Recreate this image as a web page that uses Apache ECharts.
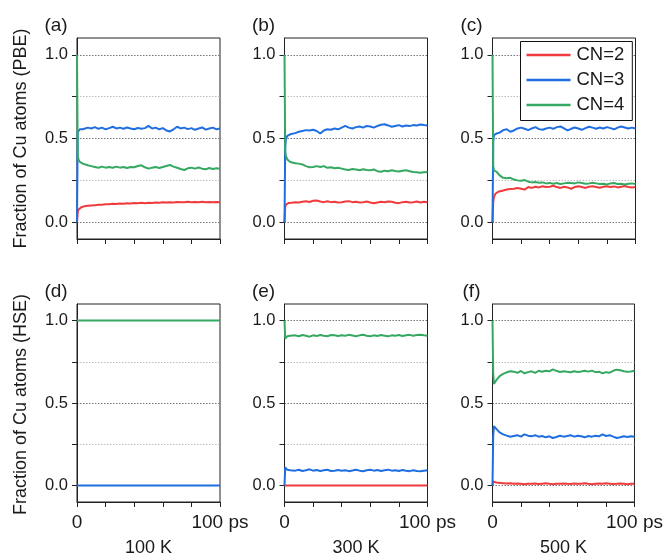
<!DOCTYPE html>
<html>
<head>
<meta charset="utf-8">
<script src="https://cdn.jsdelivr.net/npm/echarts@6/dist/echarts.min.js"></script>
<style>
html,body{margin:0;padding:0;background:#fff;}
#chart{width:666px;height:558px;}
</style>
</head>
<body>
<div id="chart"></div>
<script>
// ---------- data ----------
const seriesNames = ['CN=2', 'CN=3', 'CN=4'];
const panelLabels = ['(a)', '(b)', '(c)', '(d)', '(e)', '(f)'];
const temperatures = ['100 K', '300 K', '500 K'];
const rowTitles = ['Fraction of Cu atoms (PBE)', 'Fraction of Cu atoms (HSE)'];
const yTickValues = [0, 0.25, 0.5, 0.75, 1.0];
const yLabelValues = [0, 0.5, 1.0];
const yTickLabels = ['0.0', '0.5', '1.0'];
const xLabelValues = [0, 100];
const xTickLabels = ['0', '100 ps'];

// time (ps)
const T = [0, 0.5, 1, 2, 3, 4, 5, 7.5, 10, 12.5, 15, 17.5, 20, 22.5, 25, 27.5, 30, 32.5, 35, 37.5, 40, 42.5, 45, 47.5, 50, 52.5, 55, 57.5, 60, 62.5, 65, 67.5, 70, 72.5, 75, 77.5, 80, 82.5, 85, 87.5, 90, 92.5, 95, 97.5, 100];
const T_flat = [0, 100];

// (a) PBE 100 K
const red_a = [0, 0.06, 0.075, 0.085, 0.09, 0.092, 0.095, 0.098, 0.10, 0.102, 0.104, 0.105, 0.107, 0.108, 0.11, 0.109, 0.112, 0.111, 0.113, 0.112, 0.115, 0.113, 0.116, 0.114, 0.117, 0.115, 0.118, 0.117, 0.119, 0.118, 0.12, 0.118, 0.121, 0.119, 0.12, 0.122, 0.12, 0.121, 0.119, 0.122, 0.12, 0.121, 0.119, 0.121, 0.12];
const blue_a = [0, 0.54, 0.55, 0.555, 0.56, 0.555, 0.56, 0.565, 0.56, 0.568, 0.558, 0.565, 0.555, 0.562, 0.57, 0.56, 0.565, 0.558, 0.566, 0.56, 0.555, 0.563, 0.558, 0.562, 0.575, 0.56, 0.565, 0.555, 0.562, 0.548, 0.542, 0.555, 0.57, 0.56, 0.565, 0.556, 0.562, 0.552, 0.56, 0.566, 0.553, 0.56, 0.565, 0.555, 0.56];
const green_a = [1.0, 0.40, 0.375, 0.36, 0.355, 0.35, 0.345, 0.34, 0.335, 0.33, 0.325, 0.332, 0.326, 0.33, 0.325, 0.332, 0.326, 0.33, 0.324, 0.33, 0.328, 0.336, 0.34, 0.328, 0.32, 0.326, 0.33, 0.324, 0.33, 0.336, 0.342, 0.332, 0.325, 0.318, 0.312, 0.322, 0.326, 0.32, 0.327, 0.32, 0.316, 0.324, 0.318, 0.322, 0.32];

// (b) PBE 300 K
const red_b = [0, 0.09, 0.105, 0.11, 0.115, 0.112, 0.117, 0.12, 0.118, 0.122, 0.125, 0.121, 0.128, 0.13, 0.124, 0.12, 0.125, 0.12, 0.122, 0.118, 0.12, 0.124, 0.126, 0.12, 0.122, 0.118, 0.12, 0.124, 0.118, 0.114, 0.118, 0.122, 0.12, 0.124, 0.122, 0.116, 0.114, 0.12, 0.122, 0.118, 0.12, 0.124, 0.118, 0.122, 0.12];
const blue_b = [0, 0.45, 0.5, 0.515, 0.52, 0.525, 0.528, 0.532, 0.54, 0.545, 0.55, 0.548, 0.552, 0.545, 0.53, 0.548, 0.555, 0.552, 0.56, 0.555, 0.565, 0.575, 0.565, 0.56, 0.568, 0.572, 0.565, 0.575, 0.572, 0.565, 0.575, 0.582, 0.585, 0.578, 0.57, 0.575, 0.58, 0.572, 0.578, 0.574, 0.58, 0.578, 0.584, 0.58, 0.578];
const green_b = [1.0, 0.42, 0.395, 0.375, 0.365, 0.36, 0.355, 0.352, 0.35, 0.345, 0.335, 0.328, 0.33, 0.335, 0.33, 0.335, 0.325, 0.328, 0.322, 0.325, 0.32, 0.315, 0.312, 0.318, 0.315, 0.31, 0.316, 0.312, 0.31, 0.315, 0.305, 0.302, 0.308, 0.305, 0.31, 0.306, 0.303, 0.308, 0.31, 0.305, 0.30, 0.298, 0.295, 0.298, 0.30];

// (c) PBE 500 K
const red_c = [0, 0.12, 0.15, 0.17, 0.178, 0.182, 0.185, 0.19, 0.195, 0.198, 0.20, 0.205, 0.20, 0.195, 0.21, 0.205, 0.212, 0.208, 0.215, 0.21, 0.212, 0.218, 0.21, 0.205, 0.212, 0.208, 0.20, 0.21, 0.215, 0.21, 0.205, 0.212, 0.215, 0.21, 0.206, 0.212, 0.215, 0.21, 0.214, 0.208, 0.212, 0.216, 0.21, 0.208, 0.21];
const blue_c = [0, 0.48, 0.52, 0.525, 0.53, 0.528, 0.535, 0.55, 0.555, 0.54, 0.548, 0.56, 0.565, 0.558, 0.55, 0.56, 0.568, 0.556, 0.552, 0.56, 0.565, 0.558, 0.568, 0.572, 0.56, 0.548, 0.558, 0.566, 0.56, 0.552, 0.562, 0.57, 0.565, 0.558, 0.566, 0.56, 0.568, 0.562, 0.555, 0.565, 0.572, 0.566, 0.56, 0.565, 0.56];
const green_c = [1.0, 0.34, 0.31, 0.305, 0.30, 0.29, 0.28, 0.265, 0.262, 0.265, 0.255, 0.25, 0.248, 0.252, 0.242, 0.238, 0.24, 0.236, 0.238, 0.232, 0.235, 0.23, 0.234, 0.228, 0.232, 0.236, 0.235, 0.232, 0.238, 0.234, 0.23, 0.232, 0.236, 0.232, 0.228, 0.23, 0.226, 0.232, 0.234, 0.228, 0.23, 0.226, 0.23, 0.232, 0.228];

// (d) HSE 100 K (constant)
const red_d = [0, 0];
const blue_d = [0, 0];
const green_d = [1.0, 1.0];

// (e) HSE 300 K
const red_e = [0, 0];
const blue_e = [0, 0.11, 0.105, 0.095, 0.10, 0.093, 0.097, 0.09, 0.095, 0.088, 0.092, 0.098, 0.09, 0.094, 0.088, 0.092, 0.095, 0.088, 0.09, 0.094, 0.089, 0.092, 0.087, 0.091, 0.095, 0.09, 0.086, 0.092, 0.095, 0.09, 0.094, 0.088, 0.092, 0.096, 0.09, 0.093, 0.088, 0.094, 0.09, 0.087, 0.092, 0.088, 0.086, 0.09, 0.092];
const green_e = [1.0, 0.89, 0.895, 0.905, 0.90, 0.907, 0.903, 0.91, 0.905, 0.912, 0.908, 0.902, 0.91, 0.906, 0.912, 0.908, 0.905, 0.912, 0.91, 0.906, 0.911, 0.908, 0.913, 0.909, 0.905, 0.91, 0.914, 0.908, 0.905, 0.91, 0.906, 0.912, 0.908, 0.904, 0.91, 0.907, 0.912, 0.906, 0.91, 0.913, 0.908, 0.912, 0.914, 0.91, 0.908];

// (f) HSE 500 K
const red_f = [0, 0.025, 0.022, 0.02, 0.018, 0.016, 0.015, 0.014, 0.012, 0.013, 0.01, 0.012, 0.01, 0.008, 0.011, 0.01, 0.012, 0.009, 0.011, 0.013, 0.01, 0.008, 0.011, 0.01, 0.012, 0.01, 0.009, 0.012, 0.01, 0.011, 0.013, 0.01, 0.008, 0.011, 0.012, 0.01, 0.013, 0.011, 0.009, 0.01, 0.012, 0.01, 0.008, 0.011, 0.01];
const blue_f = [0, 0.30, 0.36, 0.355, 0.34, 0.33, 0.322, 0.31, 0.302, 0.295, 0.30, 0.305, 0.296, 0.31, 0.302, 0.298, 0.305, 0.296, 0.30, 0.292, 0.298, 0.288, 0.294, 0.302, 0.296, 0.30, 0.305, 0.296, 0.302, 0.298, 0.292, 0.30, 0.296, 0.302, 0.298, 0.31, 0.30, 0.305, 0.296, 0.288, 0.292, 0.298, 0.294, 0.298, 0.295];
const green_f = [1.0, 0.68, 0.615, 0.625, 0.642, 0.654, 0.663, 0.676, 0.686, 0.692, 0.69, 0.683, 0.694, 0.68, 0.687, 0.692, 0.683, 0.695, 0.689, 0.695, 0.692, 0.704, 0.695, 0.688, 0.692, 0.69, 0.686, 0.692, 0.688, 0.691, 0.695, 0.69, 0.696, 0.687, 0.69, 0.68, 0.687, 0.684, 0.695, 0.702, 0.698, 0.692, 0.69, 0.691, 0.695];

const panels = [
  { t: [T, T, T], v: [red_a, blue_a, green_a] },
  { t: [T, T, T], v: [red_b, blue_b, green_b] },
  { t: [T, T, T], v: [red_c, blue_c, green_c] },
  { t: [T_flat, T_flat, T_flat], v: [red_d, blue_d, green_d] },
  { t: [T_flat, T, T], v: [red_e, blue_e, green_e] },
  { t: [T, T, T], v: [red_f, blue_f, green_f] }
];

// ---------- styling / layout ----------
const COLORS = ['#ef3b3e', '#1f6fe0', '#35a862'];
const FONT = 'Liberation Sans, Arial, Helvetica, sans-serif';
const INK = '#1a1a1a';
const colLeft = [77, 284.5, 492.5];
const rowTop = [38, 304];
const GW = 143, GH = 201;

const grids = [], xAxes = [], yAxes = [], series = [], graphics = [];
for (let i = 0; i < 6; i++) {
  const row = Math.floor(i / 3), col = i % 3;
  const bottom = row === 1;
  grids.push({ left: colLeft[col], top: rowTop[row], width: GW, height: GH,
    show: true, borderColor: '#222', borderWidth: 1, backgroundColor: 'transparent', containLabel: false });
  xAxes.push({
    gridIndex: i, type: 'value', min: 0, max: 100, interval: 20,
    axisLine: { show: true, onZero: false, lineStyle: { color: '#222', width: 1 } },
    axisTick: { show: true, length: 5, lineStyle: { color: '#222' } },
    axisLabel: bottom ? {
      show: true, customValues: xLabelValues,
      formatter: v => xTickLabels[xLabelValues.indexOf(v)],
      fontSize: 19, fontFamily: FONT, color: INK, margin: 11
    } : { show: false },
    splitLine: { show: false },
    name: bottom ? temperatures[col] : '',
    nameLocation: 'middle', nameGap: 37,
    nameTextStyle: { fontSize: 18, fontFamily: FONT, color: INK }
  });
  yAxes.push({
    gridIndex: i, type: 'value', min: -0.1, max: 1.1,
    axisLine: { show: true, onZero: false, lineStyle: { color: '#222', width: 1 } },
    axisTick: { show: true, length: 5, customValues: yTickValues, lineStyle: { color: '#222' } },
    axisLabel: { show: true, customValues: yLabelValues,
      formatter: v => yTickLabels[yLabelValues.indexOf(v)],
      fontSize: 16.5, fontFamily: FONT, color: INK, margin: 9 },
    splitLine: { show: true, lineStyle: { type: [1.5, 1.5], width: 1,
      color: ['#777777', '#bdbdbd', '#777777', '#bdbdbd', '#777777'] } }
  });
  for (let s = 0; s < 3; s++) {
    const tt = panels[i].t[s], vv = panels[i].v[s];
    // in panel (d) the CN=2 line lies exactly under CN=3; keep it thinner so it stays hidden
    const w = (i === 3 && s === 0) ? 1.2 : 2;
    series.push({
      name: seriesNames[s], type: 'line', xAxisIndex: i, yAxisIndex: i,
      data: tt.map((t, k) => [t, vv[k]]),
      showSymbol: false, symbol: 'none', smooth: false,
      lineStyle: { color: COLORS[s], width: w },
      itemStyle: { color: COLORS[s] },
      z: 2 + s
    });
  }
  graphics.push({
    type: 'text', x: colLeft[col] - 21, y: rowTop[row] - 12,
    style: { text: panelLabels[i], align: 'center', verticalAlign: 'middle',
      fontSize: 19, fontFamily: FONT, fill: INK }
  });
}
for (let r = 0; r < 2; r++) {
  graphics.push({
    type: 'text', x: 21, y: rowTop[r] + GH / 2, rotation: Math.PI / 2,
    style: { text: rowTitles[r], align: 'center', verticalAlign: 'middle',
      fontSize: 18, fontFamily: FONT, fill: INK }
  });
}

const chart = echarts.init(document.getElementById('chart'), null, { renderer: 'canvas' });
chart.setOption({
  animation: false,
  backgroundColor: '#fff',
  textStyle: { fontFamily: FONT },
  grid: grids, xAxis: xAxes, yAxis: yAxes, series: series,
  graphic: graphics,
  legend: {
    data: seriesNames, orient: 'vertical', left: 520.5, top: 41.5,
    icon: 'rect', itemWidth: 44, itemHeight: 2.5, itemGap: 6,
    padding: [4, 8, 6, 6],
    backgroundColor: '#fff', borderColor: '#111', borderWidth: 1,
    textStyle: { fontSize: 18.5, fontFamily: FONT, color: INK, padding: [0, 0, 0, 1] }
  }
});
</script>
</body>
</html>
